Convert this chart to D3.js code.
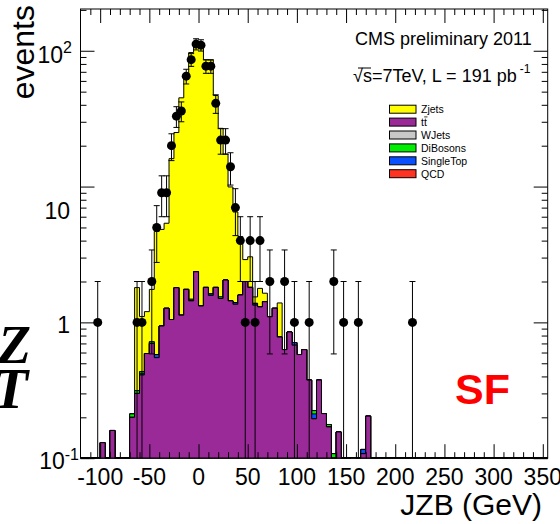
<!DOCTYPE html>
<html>
<head>
<meta charset="utf-8">
<script src="https://cdn.jsdelivr.net/npm/d3@7"></script>
<style>
  body { margin: 0; background: #fff; }
</style>
</head>
<body>
<div id="chart"></div>
<script>
// JZB distribution, same-flavour, 5 GeV bins starting at -105 GeV
const binStart = -105;
const binWidth = 5;

const dataCounts = [1, 0, 0, 0, 0, 0, 0, 0, 1, 1, 0, 2, 5, 9, 9, 20, 33, 36, 65, 86,
  112, 110, 77, 77, 41, 22, 22, 14, 7, 4, 1, 4, 1, 4, 0, 2, 0, 0, 2, 0,
  1, 0, 0, 1, 0, 0, 0, 0, 2, 0, 1, 0, 0, 1, 0, 0, 0, 0, 0, 0,
  0, 0, 0, 0, 1];

const ttbar = [0, 0.13, 0, 0.16, 0, 0, 0, 0.2, 0.30, 0.41, 0.59, 0.70, 0.55, 0.94, 1.27, 1.05, 1.80, 1.13, 1.75, 1.44,
  2.36, 1.32, 1.81, 1.58, 1.81, 1.50, 2.05, 1.44, 1.36, 1.59, 2.0, 1.81, 1.34, 1.30, 1.42, 1.10, 1.27, 0.78, 0.63, 0.85,
  0.68, 0.58, 0.63, 0.376, 0.195, 0.376, 0.213, 0.17, 0.10, 0.156, 0, 0, 0.101, 0, 0.108, 0.204];

const singleTop = [0, 0, 0, 0, 0, 0, 0, 0, 0, 0.012, 0, 0, 0.03, 0, 0, 0, 0, 0, 0, 0,
  0, 0, 0, 0.04, 0, 0, 0, 0, 0.04, 0, 0, 0, 0.04, 0, 0, 0, 0, 0, 0, 0,
  0.03, 0, 0, 0, 0.017, 0, 0, 0, 0, 0, 0, 0, 0, 0, 0.008];

const diBosons = [0, 0, 0, 0, 0, 0, 0, 0.012, 0.014, 0.012, 0, 0.02, 0, 0, 0, 0, 0, 0, 0, 0.04,
  0, 0, 0, 0, 0, 0.04, 0, 0, 0, 0, 0, 0, 0, 0, 0, 0, 0, 0, 0, 0,
  0, 0, 0, 0, 0.012, 0, 0, 0.007, 0.008];

const wJets = [];
const qcd = [];

const zJets = [0, 0, 0, 0, 0, 0, 0, 0, 1.49, 0.67, 0.61, 1.03, 4.1, 3.9, 4.1, 15, 23.2, 43.9, 66, 95.5,
  104.6, 102.7, 84, 84, 45, 25.3, 15.3, 8.5, 5.1, 2.7, 0.9, 1.23, 0.16, 0.48, 0.22, 0, 0, 0.61];

const xTickLabels = [-100, -50, 0, 50, 100, 150, 200, 250, 300, 350];
const yTickLabels = [
  { v: 100, base: '10', sup: '2', end: 72, dy: 12 },
  { v: 10, base: '10', sup: '', end: 70, dy: 32 },
  { v: 1, base: '1', sup: '', end: 70, dy: 11 },
  { v: 0.1, base: '10', sup: '-1', end: 79, dy: 11 }
];

const legendItems = [
  { name: 'Zjets', color: '#ffff00' },
  { name: 'tt', color: '#9a2a98', bar: true },
  { name: 'WJets', color: '#c8c8c8' },
  { name: 'DiBosons', color: '#00ee00' },
  { name: 'SingleTop', color: '#0a50ff' },
  { name: 'QCD', color: '#ff3322' }
];

// stacking, bottom to top
const layers = [
  { values: ttbar, color: '#9a2a98' },
  { values: qcd, color: '#ff3322' },
  { values: singleTop, color: '#0a50ff' },
  { values: diBosons, color: '#00ee00' },
  { values: wJets, color: '#c8c8c8' },
  { values: zJets, color: '#ffff00' }
];

const width = 560, height = 524;
const font = '"Liberation Sans", Arial, Helvetica, sans-serif';

const svg = d3.select('#chart')
  .append('svg')
  .attr('width', width)
  .attr('height', height)
  .attr('font-family', font);

const x = d3.scaleLinear().domain([-120, 355]).range([80.5, 547.7]);
const y = d3.scaleLog().domain([0.1, 203]).range([458.2, 9]).clamp(true);
const [fx0, fx1] = x.range();
const [fy1, fy0] = y.range();

svg.append('defs').append('clipPath').attr('id', 'frame')
  .append('rect')
  .attr('x', fx0).attr('y', fy0)
  .attr('width', fx1 - fx0).attr('height', fy1 - fy0);

const plot = svg.append('g').attr('clip-path', 'url(#frame)');

// bin contents across the whole axis range
const allLows = d3.range(x.domain()[0], x.domain()[1], binWidth);
const valueAt = (arr, lo) => {
  const i = Math.round((lo - binStart) / binWidth);
  return i >= 0 && i < arr.length ? arr[i] : 0;
};

let running = allLows.map(() => 0);
const cumulative = layers.map(layer => {
  running = running.map((s, j) => s + valueAt(layer.values, allLows[j]));
  return { color: layer.color, sums: running.slice() };
});

const area = d3.area()
  .curve(d3.curveStepAfter)
  .x(d => x(d[0]))
  .y0(y(0.1))
  .y1(d => y(Math.max(d[1], 0.01)));

// ROOT draws the stack from the top sum down
cumulative.slice().reverse().forEach(layer => {
  const pts = allLows.map((lo, j) => [lo, layer.sums[j]]);
  pts.push([x.domain()[1], layer.sums[layer.sums.length - 1]]);
  plot.append('path')
    .attr('d', area(pts))
    .attr('fill', layer.color)
    .attr('stroke', '#000')
    .attr('stroke-width', 1);
});

// data points with sqrt(N) errors
const points = dataCounts
  .map((n, i) => ({ n, c: binStart + binWidth * (i + 0.5) }))
  .filter(d => d.n > 0);

points.forEach(d => {
  const err = Math.sqrt(d.n);
  const cx = x(d.c);
  const lo = d.n - err;
  const yTop = y(d.n + err);
  const yBot = lo > 0 ? y(lo) : y(0.1);
  plot.append('line')
    .attr('x1', cx).attr('x2', cx)
    .attr('y1', yTop).attr('y2', yBot)
    .attr('stroke', '#000').attr('stroke-width', 1);
  plot.append('line')
    .attr('x1', cx - 3).attr('x2', cx + 3)
    .attr('y1', yTop).attr('y2', yTop)
    .attr('stroke', '#000').attr('stroke-width', 1);
  if (lo > 0) {
    plot.append('line')
      .attr('x1', cx - 3).attr('x2', cx + 3)
      .attr('y1', yBot).attr('y2', yBot)
      .attr('stroke', '#000').attr('stroke-width', 1);
  }
});

plot.selectAll('circle.pt')
  .data(points)
  .join('circle')
  .attr('class', 'pt')
  .attr('cx', d => x(d.c))
  .attr('cy', d => y(d.n))
  .attr('r', 4.5)
  .attr('fill', '#000');

// frame and ticks (ROOT style, ticks inside on all four sides)
svg.append('rect')
  .attr('x', fx0).attr('y', fy0)
  .attr('width', fx1 - fx0).attr('height', fy1 - fy0)
  .attr('fill', 'none').attr('stroke', '#000').attr('stroke-width', 1);

const xMinor = d3.range(-110, 355, 10).filter(v => v % 50 !== 0);
const yMinor = [];
[0.1, 1, 10, 100].forEach(dec => {
  for (let k = 2; k <= 9; k++) if (dec * k <= y.domain()[1]) yMinor.push(dec * k);
});
const yMajor = yTickLabels.map(d => d.v);

function tickAxis(axisFn, scale, values, size, transform) {
  const g = svg.append('g')
    .attr('transform', transform)
    .call(axisFn(scale).tickValues(values).tickSize(size).tickFormat(''));
  g.select('.domain').remove();
  g.selectAll('line').attr('stroke', '#000');
}

tickAxis(d3.axisBottom, x, xTickLabels, -14, `translate(0,${fy1})`);
tickAxis(d3.axisBottom, x, xMinor, -6, `translate(0,${fy1})`);
tickAxis(d3.axisTop, x, xTickLabels, -14, `translate(0,${fy0})`);
tickAxis(d3.axisTop, x, xMinor, -6, `translate(0,${fy0})`);
tickAxis(d3.axisLeft, y, yMajor, -14, `translate(${fx0},0)`);
tickAxis(d3.axisLeft, y, yMinor, -6, `translate(${fx0},0)`);
tickAxis(d3.axisRight, y, yMajor, -14, `translate(${fx1},0)`);
tickAxis(d3.axisRight, y, yMinor, -6, `translate(${fx1},0)`);

// x labels
svg.append('g')
  .selectAll('text')
  .data(xTickLabels)
  .join('text')
  .attr('x', d => x(d))
  .attr('y', 485)
  .attr('text-anchor', 'middle')
  .attr('font-size', 23)
  .text(d => d);

// y labels
yTickLabels.forEach(d => {
  const t = svg.append('text')
    .attr('x', d.end)
    .attr('y', y(d.v) + d.dy)
    .attr('text-anchor', 'end')
    .attr('font-size', 23);
  t.append('tspan').text(d.base);
  if (d.sup) {
    t.append('tspan').attr('dy', -9.5).attr('font-size', 16).text(d.sup);
  }
});

// axis titles
svg.append('text')
  .attr('transform', 'translate(33.5,5) rotate(-90)')
  .attr('text-anchor', 'end')
  .attr('font-size', 32)
  .text('events');

svg.append('text')
  .attr('x', 542)
  .attr('y', 515)
  .attr('text-anchor', 'end')
  .attr('font-size', 30)
  .text('JZB (GeV)');

// header texts
svg.append('text')
  .attr('x', 355).attr('y', 45)
  .attr('font-size', 18)
  .text('CMS preliminary 2011');

const lumi = svg.append('text')
  .attr('x', 353).attr('y', 82)
  .attr('font-size', 18);
lumi.append('tspan').text('\u221A');
lumi.append('tspan').text('s=7TeV, L = 191 pb');
lumi.append('tspan').attr('dx', 3).attr('dy', -9).attr('font-size', 12).text('-1');
svg.append('line')
  .attr('x1', 358).attr('x2', 371)
  .attr('y1', 68).attr('y2', 68)
  .attr('stroke', '#000').attr('stroke-width', 1);

// legend
const legend = svg.append('g');
legendItems.forEach((d, i) => {
  const cy = 109.2 + i * 12.9;
  legend.append('rect')
    .attr('x', 389.5).attr('y', cy - 4)
    .attr('width', 26.5).attr('height', 8)
    .attr('fill', d.color)
    .attr('stroke', '#000').attr('stroke-width', 1);
  legend.append('text')
    .attr('x', 421).attr('y', cy + 4)
    .attr('font-size', 10.5)
    .text(d.name);
  if (d.bar) {
    legend.append('line')
      .attr('x1', 424.2).attr('x2', 427.5)
      .attr('y1', cy - 5.2).attr('y2', cy - 5.2)
      .attr('stroke', '#000').attr('stroke-width', 0.8);
  }
});

// channel tag
svg.append('text')
  .attr('x', 455).attr('y', 404)
  .attr('font-size', 43)
  .attr('font-weight', 'bold')
  .attr('fill', '#ff0000')
  .text('SF');

// leftover symbols at the left edge
svg.append('text')
  .attr('x', 31).attr('y', 363)
  .attr('text-anchor', 'end')
  .attr('font-family', '"Liberation Serif", "Times New Roman", serif')
  .attr('font-style', 'italic')
  .attr('font-weight', 'bold')
  .attr('font-size', 54)
  .text('Z');
svg.append('text')
  .attr('x', 28).attr('y', 408)
  .attr('text-anchor', 'end')
  .attr('font-family', '"Liberation Serif", "Times New Roman", serif')
  .attr('font-style', 'italic')
  .attr('font-weight', 'bold')
  .attr('font-size', 58)
  .text('T');
</script>
</body>
</html>
